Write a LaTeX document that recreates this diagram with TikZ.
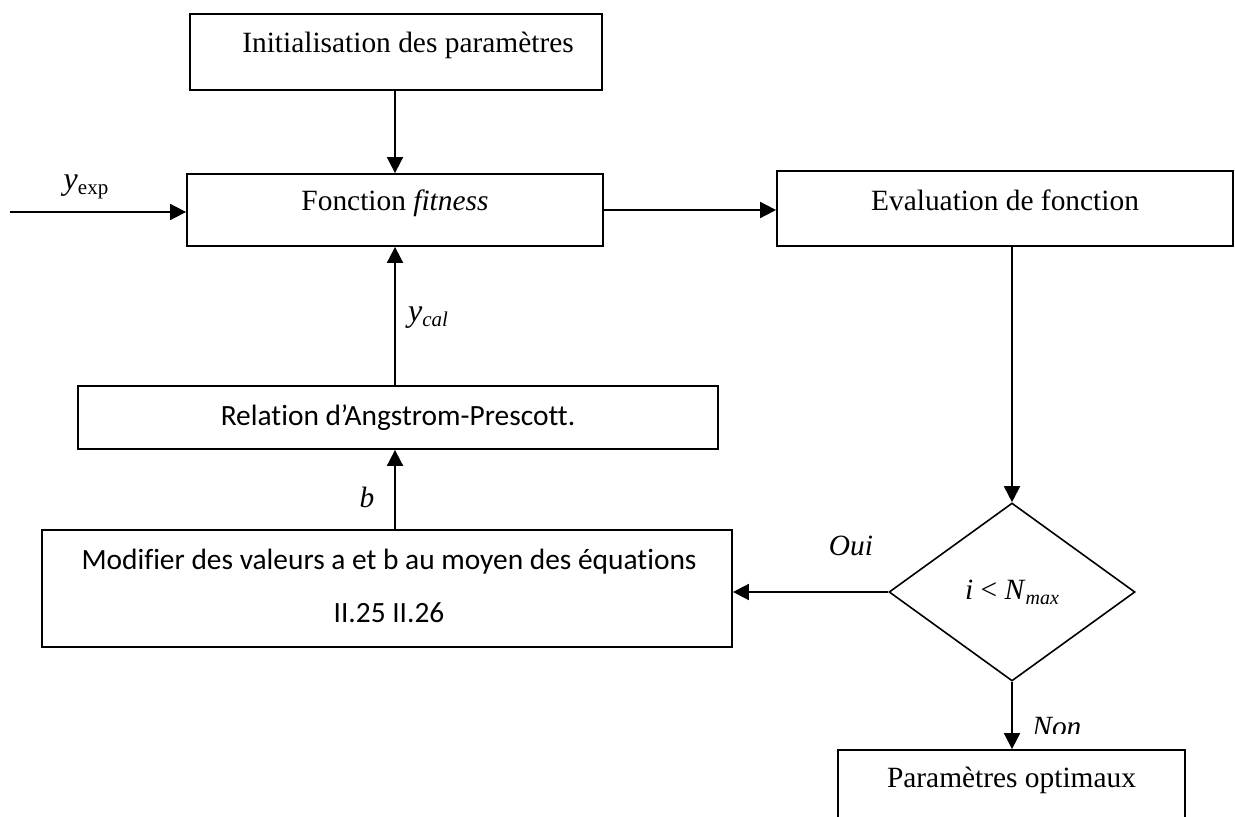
\documentclass[tikz,border=0pt]{standalone}
\usepackage{fontspec}
\setmainfont{Liberation Serif}
\newfontfamily\calib[Ligatures=NoCommon]{Carlito}
\usetikzlibrary{arrows.meta,shapes.geometric}
\begin{document}
\begin{tikzpicture}[x=0.5pt,y=-0.5pt,
  box/.style={draw,line width=0.9pt,inner sep=0pt},
  arr/.style={-{Triangle[length=8pt,width=8pt]},line width=0.9pt},
  lbl/.style={inner sep=0pt,font=\fontsize{14.7}{17}\selectfont},
  clbl/.style={inner sep=0pt,font=\calib\fontsize{14.7}{17}\selectfont}]
\clip (0,0) rectangle (1235,817);
% boxes
\node[box,minimum width=206pt,minimum height=38pt] (init) at (396,52) {};
\node[lbl] (initT) at (408,45) {Initialisation des paramètres};
\node[box,minimum width=208pt,minimum height=36pt] (fit) at (395,210) {};
\node[lbl] (fitT) at (395,203) {Fonction \textit{fitness}};
\node[box,minimum width=228pt,minimum height=37.5pt] (eval) at (1005,208.5) {};
\node[lbl] (evalT) at (1005,200) {Evaluation de fonction};
\node[box,minimum width=320pt,minimum height=31.5pt] (rel) at (398,417.5) {};
\node[clbl] (relT) at (398,418) {Relation d’Angstrom-Prescott.};
\node[box,minimum width=345pt,minimum height=58.5pt] (mod) at (387,588.5) {};
\node[clbl] (modT1) at (389,562) {Modifier des valeurs a et b au moyen des équations};
\node[clbl] (modT2) at (389,613) {II.25 II.26};
\node[draw,line width=0.8pt,shape=diamond,inner sep=0pt,minimum width=123pt,minimum height=89pt,
      font=\fontsize{14.7}{17}\selectfont] (dia) at (1012,592) {\textit{i} < \textit{N}{\fontsize{10}{12}\selectfont\raisebox{-2.5pt}{\textit{max}}}};
\node[box,minimum width=173.5pt,minimum height=50pt] (bot) at (1011.5,800) {};
\node[lbl] (botT) at (1011.5,780) {Paramètres optimaux};
% connectors
\coordinate (yin) at (10,212);
\draw[arr] (yin) -- (yin -| fit.west);
\node[lbl] (yexp) at (86,187) {{\fontsize{16}{18}\selectfont\textit{y}}{\fontsize{10.5}{12}\selectfont\raisebox{-2.5pt}{exp}}};
\draw[arr] (init.south -| fit.north) -- (fit.north);
\draw[arr] (fit.east) -- (fit.east -| eval.west);
\draw[arr] (dia.north |- eval.south) -- (dia.north);
\draw[arr] (fit.south |- rel.north) -- (fit.south);
\node[lbl] (ycal) at (428,318) {{\fontsize{16}{18}\selectfont\textit{y}}{\fontsize{10.5}{12}\selectfont\raisebox{-2.5pt}{\textit{cal}}}};
\draw[arr] (fit.south |- mod.north) -- (fit.south |- rel.south);
\node[lbl] (bl) at (367,497) {\textit{b}};
\draw[arr] (dia.west) -- (dia.west -| mod.east);
\node[lbl] (oui) at (851,546) {\textit{Oui}};
\draw[arr] (dia.south) -- (dia.south |- bot.north);
\begin{scope}
\clip (1020,690) rectangle (1110,733);
\node[lbl,anchor=west] (non) at (1032,727) {\textit{Non}};
\end{scope}
\end{tikzpicture}
\end{document}
